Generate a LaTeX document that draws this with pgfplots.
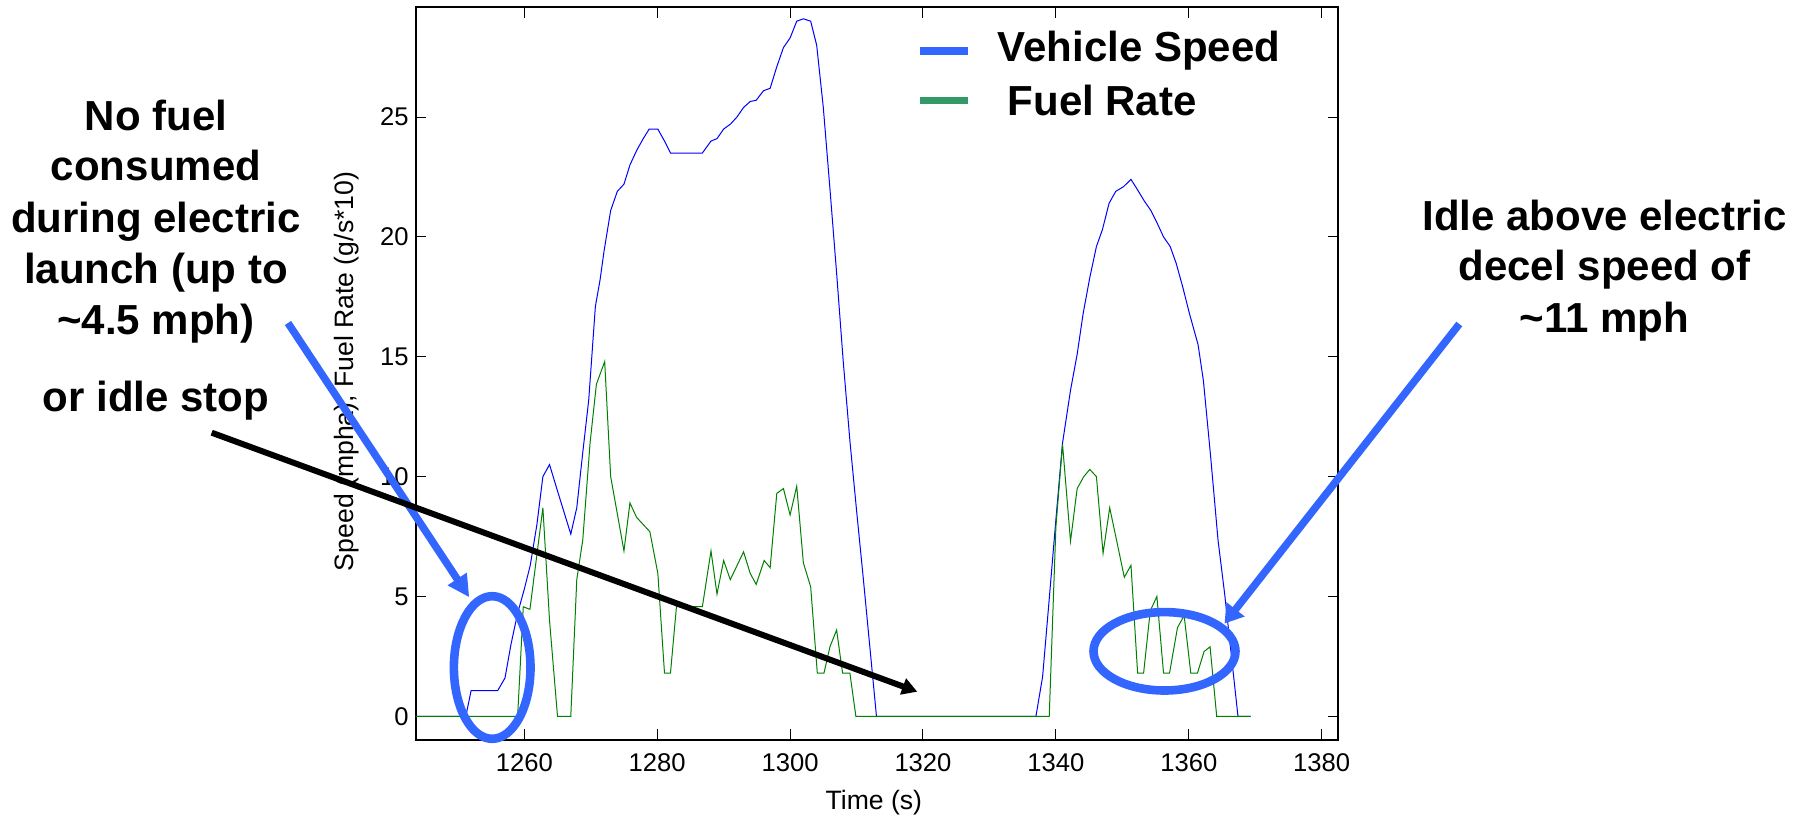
\documentclass[border=0pt]{standalone}
\usepackage{fontspec}
\setmainfont{Liberation Sans}
\usepackage{pgfplots}
\pgfplotsset{compat=1.18}
\usetikzlibrary{arrows.meta}
\definecolor{annblue}{RGB}{51,102,255}
\definecolor{leggreen}{RGB}{51,153,102}
\definecolor{plotgreen}{RGB}{0,128,0}
\definecolor{plotblue}{RGB}{0,0,255}
\newcommand{\annfont}{\fontsize{21}{25}\selectfont\bfseries}
\begin{document}
\begin{tikzpicture}
\path[use as bounding box] (-207.85pt,-37pt) rectangle (693.65pt,370pt);
\begin{axis}[
  at={(0pt,0pt)}, anchor=south west,
  scale only axis, width=461.3pt, height=366.35pt,
  xmin=1243.66, xmax=1382.5, ymin=-0.99, ymax=29.58,
  xtick={1260,1280,...,1380}, ytick={0,5,...,25},
  tick align=inside, major tick length=5.4pt,
  tick style={line width=0.5pt, black},
  axis line style={line width=0.9pt},
  /pgf/number format/assume math mode=true,
  /pgf/number format/1000 sep={},
  tick label style={font=\fontsize{12.8}{15}\selectfont},
  xticklabel style={anchor=base, yshift=-15.8pt},
  every axis y label/.style={at={(axis description cs:-0.0676,0.503)}, anchor=base, rotate=90, font=\fontsize{13.3}{16}\selectfont},
  every axis x label/.style={at={(axis description cs:0.4966,-0.0942)}, anchor=base, font=\fontsize{13.3}{16}\selectfont},
  xlabel={Time (s)},
  ylabel={Speed (mpha), Fuel Rate (g/s*10)},
  legend style={at={(axis description cs:0.543,0.9675)}, anchor=north west, draw=none, fill=none, inner sep=0pt, outer sep=0pt, row sep=7pt, font=\annfont, nodes={inner sep=0pt, text height=15.3pt, text depth=4.4pt}, /tikz/every odd column/.append style={column sep=12.8pt}},
  legend cell align=left,
  legend image code/.code={\draw[#1] (0pt,0pt) -- (24pt,0pt);},
]
\addplot[plotblue, line width=0.5pt, forget plot] table {
x y
1243.6 0
1251.2 0
1252 1.07
1256 1.07
1257.1 1.6
1258 3.0
1259 4.3
1260 5.3
1260.9 6.3
1261.9 8.0
1262.8 10.0
1263.8 10.5
1265 9.4
1267 7.6
1267.9 8.7
1268.8 11.0
1269.7 13.2
1270.7 17.1
1271.4 18.2
1272 19.4
1273 21.1
1274 21.9
1275 22.2
1275.9 23.0
1276.9 23.6
1277.9 24.1
1278.8 24.5
1280.1 24.5
1281.1 24.0
1282 23.5
1286.8 23.5
1288.1 24.0
1289 24.1
1290 24.5
1291 24.7
1292 25.0
1293 25.4
1294 25.65
1294.9 25.7
1296 26.1
1297 26.2
1298 27.1
1299 27.9
1300 28.3
1301 29.0
1302 29.1
1303.1 29.0
1304 28.0
1305 25.4
1306 22.0
1307 18.5
1308 14.8
1309 11.5
1310 8.6
1311 5.8
1312 2.9
1313 0
1337 0
1338 1.65
1339 4.9
1340 8.2
1341 11.4
1342.2 13.6
1343.2 15.1
1344.1 16.8
1345.1 18.3
1346.1 19.6
1347 20.3
1348 21.4
1349 21.9
1350.2 22.1
1351.3 22.4
1352.3 21.96
1353.3 21.5
1354.3 21.1
1355.2 20.6
1356.2 20.0
1357.2 19.6
1358.1 18.9
1359.1 17.9
1360.1 16.8
1361.4 15.5
1362.2 14.0
1363.3 10.8
1364.4 7.35
1365.4 5.1
1366.4 2.55
1367.4 0
1369.3 0
};
\addplot[plotgreen, line width=0.5pt, forget plot] table {
x y
1243.6 0
1259 0
1259.85 4.57
1260.85 4.46
1262.8 8.7
1263.8 4.0
1265 0
1267 0
1267.9 5.7
1268.8 7.35
1269.9 11.4
1270.85 13.85
1272.1 14.8
1273 10.0
1275 6.9
1275.9 8.9
1276.9 8.3
1277.9 8.0
1278.9 7.7
1280.1 5.96
1281.1 1.8
1282 1.8
1282.9 4.57
1286.8 4.57
1288.1 6.9
1289 5.1
1290 6.5
1291 5.7
1293 6.86
1294 5.96
1294.9 5.5
1296.1 6.5
1297 6.2
1298 9.3
1299 9.5
1300 8.4
1301 9.6
1302 6.4
1303.1 5.4
1304.1 1.8
1305.1 1.8
1306 2.9
1307 3.6
1307.9 1.8
1309 1.8
1309.9 0
1339 0
1340 7.9
1341 11.35
1342.2 7.3
1343.2 9.5
1344.2 10.0
1345.1 10.3
1346.1 10.0
1347.1 6.8
1348.1 8.7
1350.3 5.8
1351.3 6.3
1352.3 1.8
1353.2 1.8
1354.2 4.4
1355.2 5.0
1356.2 1.8
1357.1 1.8
1358.3 3.7
1359.3 4.2
1360.3 1.8
1361.3 1.8
1362.3 2.7
1363.2 2.9
1364.2 0
1369.3 0
};
\addlegendimage{annblue, line width=3.7pt}
\addlegendentry{Vehicle Speed}
\addlegendimage{leggreen, line width=3.7pt, yshift=2pt}
\addlegendentry{\hspace*{5pt}Fuel Rate}
\end{axis}
% annotations
\draw[annblue, line width=4.3pt] (38.25pt,36.25pt) ellipse [x radius=19.15pt, y radius=35.65pt];
\draw[annblue, line width=4.3pt] (374.4pt,44.35pt) ellipse [x radius=35.5pt, y radius=19.6pt];
\draw[annblue, line width=3.75pt, -{Triangle[length=11pt,width=10.7pt]}] (-63.85pt,208.5pt) -- (26.8pt,71.35pt);
\draw[annblue, line width=3.75pt, -{Triangle[length=9pt,width=11pt]}] (521.8pt,208pt) -- (404.4pt,58.25pt);
\draw[black, line width=3pt, -{Triangle[length=7.6pt,width=8.2pt]}] (-102pt,153.65pt) -- (250.8pt,24.15pt);
\node[anchor=base, inner sep=0pt, font=\annfont] at (-129.85pt,304.5pt) {No fuel};
\node[anchor=base, inner sep=0pt, font=\annfont] at (-129.85pt,279.5pt) {consumed};
\node[anchor=base, inner sep=0pt, font=\annfont] at (-129.85pt,253.85pt) {during electric};
\node[anchor=base, inner sep=0pt, font=\annfont] at (-129.85pt,228pt) {launch (up to};
\node[anchor=base, inner sep=0pt, font=\annfont] at (-129.85pt,202.5pt) {\textasciitilde4.5 mph)};
\node[anchor=base, inner sep=0pt, font=\annfont] at (-129.85pt,164.15pt) {or idle stop};
\node[anchor=base, inner sep=0pt, font=\annfont] at (594.4pt,254.5pt) {Idle above electric};
\node[anchor=base, inner sep=0pt, font=\annfont] at (594.4pt,229.5pt) {decel speed of};
\node[anchor=base, inner sep=0pt, font=\annfont] at (594.4pt,203.5pt) {\textasciitilde11 mph};
\end{tikzpicture}
\end{document}
